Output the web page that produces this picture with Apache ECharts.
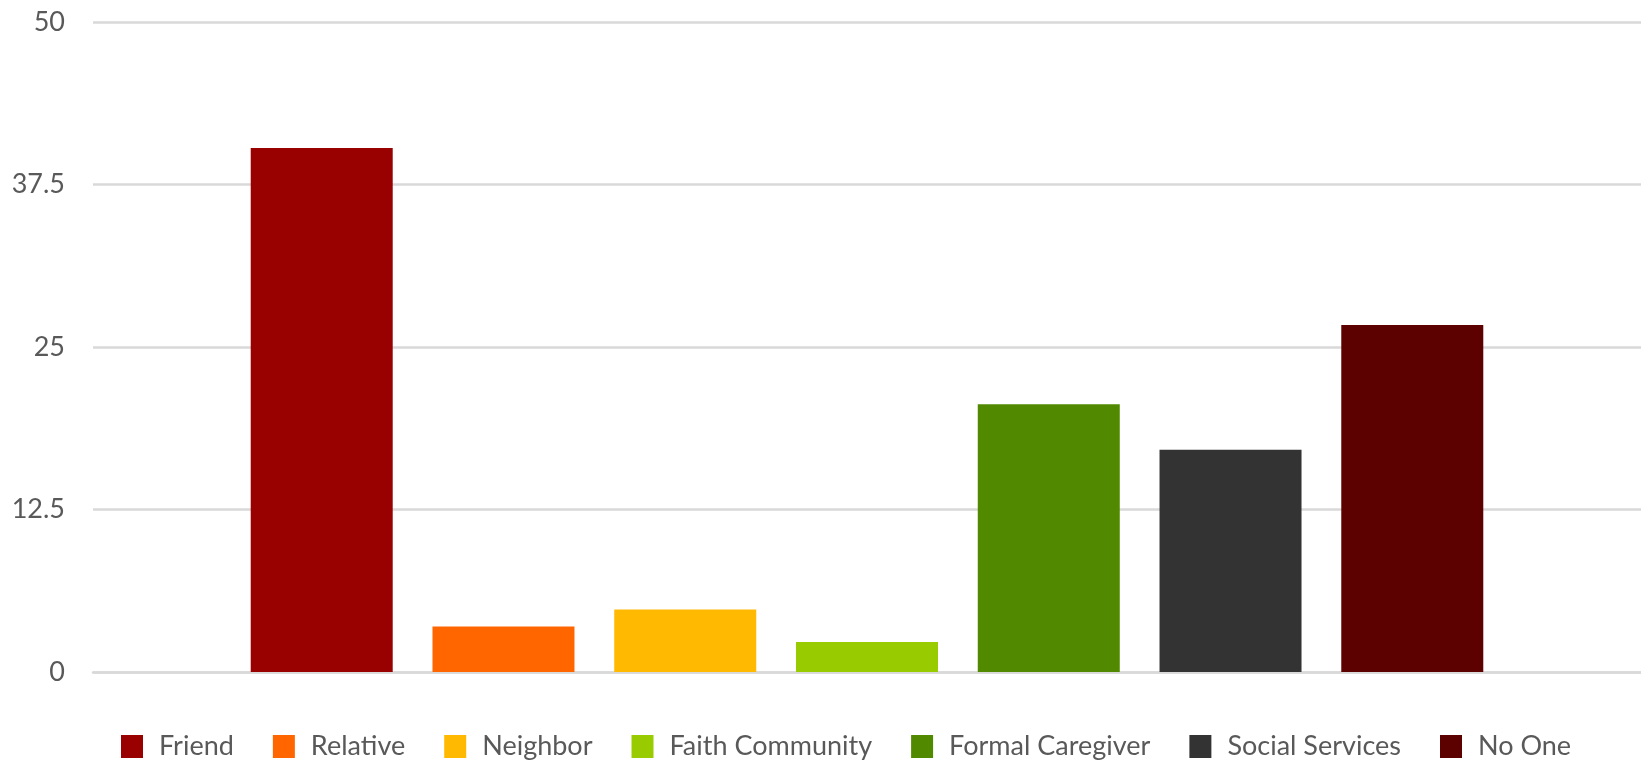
<!DOCTYPE html>
<html>
<head>
<meta charset="utf-8">
<script src="https://cdn.jsdelivr.net/npm/echarts@6/dist/echarts.min.js"></script>
<style>
  html, body { margin: 0; padding: 0; background: #fff; }
  #chart { width: 1641px; height: 760px; }
</style>
</head>
<body>
<div id="chart"></div>
<script>
// one category, each helper type is its own series (legend entries)
const categories = ['']
const seriesNames = ['Friend', 'Relative', 'Neighbor', 'Faith Community', 'Formal Caregiver', 'Social Services', 'No One']
const seriesValues = [40.3, 3.5, 4.8, 2.3, 20.6, 17.1, 26.7]
const seriesColors = ['#990000', '#FF6600', '#FFB900', '#99CC00', '#518A00', '#333333', '#5C0000']
const yTicks = { min: 0, max: 50, step: 12.5 }

const chart = echarts.init(document.getElementById('chart'))

const series = seriesNames.map((name, i) => ({
  name: name,
  type: 'bar',
  data: [seriesValues[i]],
  barWidth: 142,
  barGap: '28%',
  itemStyle: { color: seriesColors[i] }
}))

const option = {
  animation: false,
  textStyle: { fontFamily: 'Lato' },
  grid: {
    left: 93,
    right: 0,
    top: 22,
    bottom: 88,
    containLabel: false
  },
  legend: {
    data: seriesNames,
    left: 116,
    top: 728,
    icon: 'rect',
    itemWidth: 22,
    itemHeight: 23,
    itemGap: 39,
    textStyle: {
      fontFamily: 'Lato',
      fontSize: 27,
      color: '#595959',
      padding: [0, 0, 0, 11]
    }
  },
  xAxis: {
    type: 'category',
    data: categories,
    axisLine: { show: true, lineStyle: { color: '#d9d9d9', width: 2.5 } },
    axisTick: { show: false },
    axisLabel: { show: false }
  },
  yAxis: {
    type: 'value',
    min: yTicks.min,
    max: yTicks.max,
    interval: yTicks.step,
    axisLine: { show: false },
    axisTick: { show: false },
    axisLabel: {
      margin: 28,
      fontFamily: 'Lato',
      fontSize: 27,
      color: '#595959'
    },
    splitLine: { lineStyle: { color: '#d9d9d9', width: 2.5 } }
  },
  series: series
}

chart.setOption(option)
</script>
</body>
</html>
